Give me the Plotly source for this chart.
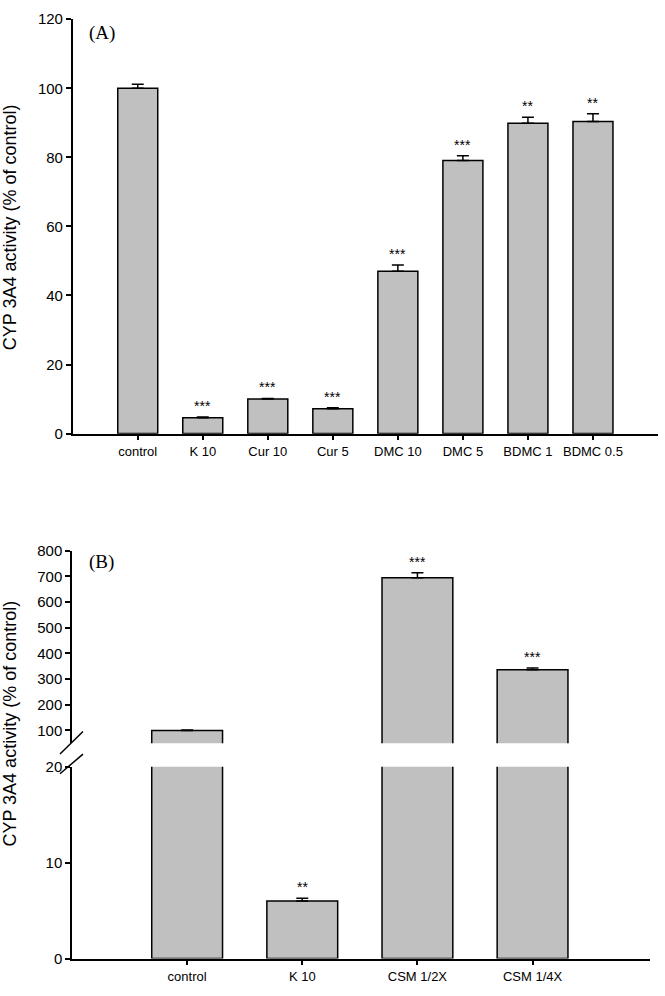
import plotly.graph_objects as go

W, H = 665, 996

# panel (A)
cat_a = ["control", "K 10", "Cur 10", "Cur 5", "DMC 10", "DMC 5", "BDMC 1", "BDMC 0.5"]
val_a = [100.0, 4.6, 10.0, 7.2, 47.0, 79.1, 89.9, 90.4]
err_a = [1.2, 0.2, 0.2, 0.3, 1.8, 1.4, 1.7, 2.2]
sig_a = ["", "***", "***", "***", "***", "***", "**", "**"]

# panel (B)
cat_b = ["control", "K 10", "CSM 1/2X", "CSM 1/4X"]
val_b = [100.0, 6.0, 694.0, 336.0]
err_b = [1.5, 0.3, 20.0, 7.0]
sig_b = ["", "**", "***", "***"]

ytitle = "CYP 3A4 activity (% of control)"


def px(x):
    return x / W


def py(y):
    return 1 - y / H


bar_style = dict(marker=dict(color="#c0c0c0", line=dict(color="black", width=1.5)),
                 width=0.615, showlegend=False)


def errs(e):
    return dict(type="data", array=e, arrayminus=[0] * len(e), symmetric=False,
                color="black", thickness=1.5, width=6)


fig = go.Figure()
fig.add_trace(go.Bar(x=cat_a, y=val_a, error_y=errs(err_a), xaxis="x", yaxis="y", **bar_style))
fig.add_trace(go.Bar(x=cat_b, y=val_b, error_y=errs(err_b), xaxis="x2", yaxis="y2", **bar_style))
fig.add_trace(go.Bar(x=cat_b, y=val_b, error_y=errs(err_b), xaxis="x3", yaxis="y3", **bar_style))

axis_common = dict(showline=True, linecolor="black", linewidth=1.5, ticks="outside",
                   ticklen=5, tickwidth=1.5, tickcolor="black", showgrid=False,
                   zeroline=False, fixedrange=True)
tickfont_x = dict(family="Liberation Sans, Arial", size=13, color="black")
tickfont_y = dict(family="Liberation Sans, Arial", size=15, color="black")

fig.update_layout(
    width=W, height=H,
    margin=dict(l=0, r=0, t=0, b=0),
    paper_bgcolor="white", plot_bgcolor="white",
    xaxis=dict(domain=[px(72.7), px(658)], range=[-1, 8.0], anchor="y",
               tickfont=tickfont_x, **axis_common),
    yaxis=dict(domain=[py(432), py(10.4)], range=[0, 120], dtick=20, anchor="x",
               tickfont=tickfont_y, **axis_common),
    xaxis2=dict(domain=[px(72), px(650)], range=[-1, 4.02], anchor="y2",
                tickfont=tickfont_x, **axis_common),
    yaxis2=dict(domain=[py(966), py(771)], range=[0, 20], tickvals=[0, 10, 20], anchor="x2",
                tickfont=tickfont_y, **axis_common),
    xaxis3=dict(domain=[px(72), px(650)], range=[-1, 4.02], anchor="y3", matches="x2",
                visible=False, fixedrange=True),
    yaxis3=dict(domain=[py(747), py(551)], range=[50, 800],
                tickvals=[100, 200, 300, 400, 500, 600, 700, 800], anchor="x3",
                tickfont=tickfont_y, **axis_common),
)

ann = []
star_font = dict(family="Liberation Sans, Arial", size=14, color="black")
for c, v, e, s in zip(cat_a, val_a, err_a, sig_a):
    if s:
        ann.append(dict(x=c, y=v + e, xref="x", yref="y", text=s, showarrow=False,
                        yanchor="bottom", yshift=1, font=star_font))
for c, v, e, s in zip(cat_b, val_b, err_b, sig_b):
    if not s:
        continue
    ax = ("x2", "y2") if v < 20 else ("x3", "y3")
    ann.append(dict(x=c, y=v + e, xref=ax[0], yref=ax[1], text=s, showarrow=False,
                    yanchor="bottom", yshift=1, font=star_font))

label_font = dict(family="Liberation Serif, Times New Roman", size=19, color="black")
ann.append(dict(x=px(102), y=py(24), xref="paper", yref="paper", text="(A)",
                xanchor="center", yanchor="middle", showarrow=False, font=label_font))
ann.append(dict(x=px(101), y=py(563), xref="paper", yref="paper", text="(B)",
                xanchor="center", yanchor="middle", showarrow=False, font=label_font))

title_font = dict(family="Liberation Sans, Arial", size=18, color="black")
ann.append(dict(x=px(10), y=py(222), xref="paper", yref="paper", text=ytitle,
                xanchor="center", yanchor="middle",
                textangle=-90, showarrow=False, font=title_font))
ann.append(dict(x=px(10), y=py(727), xref="paper", yref="paper", text=ytitle,
                xanchor="center", yanchor="middle",
                textangle=-90, showarrow=False, font=title_font))
fig.update_layout(annotations=ann)

# axis break marks
for (x0, y0, x1, y1) in [(60, 758, 83, 735), (60, 778, 83, 758)]:
    fig.add_shape(type="line", xref="paper", yref="paper",
                  x0=px(x0), y0=py(y0), x1=px(x1), y1=py(y1),
                  line=dict(color="black", width=1.5))

# page has a default 8px body margin; drop it so the figure fills the window
fig.write_html("out.html", config={"displayModeBar": False},
               post_script="document.body.style.margin='0';")
